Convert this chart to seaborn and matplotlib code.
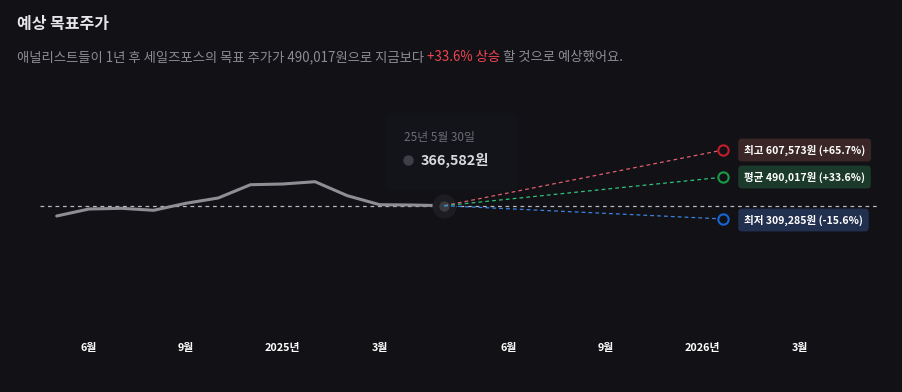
"""
Analyst target price chart (dark theme)
"""
import matplotlib
matplotlib.use('Agg')
import matplotlib.pyplot as plt
from matplotlib.lines import Line2D
from matplotlib.patches import FancyBboxPatch
import pandas as pd
import seaborn as sns

# monthly closing prices up to 25-05-30 (x = month index, 6월 = 0)
months = [-1, 0, 1, 2, 3, 4, 5, 6, 7, 8, 9, 10, 11]
prices = [322000, 352300, 355300, 346700, 377000, 399900, 457400,
          460500, 470400, 409850, 370900, 369600, 366582]

target_x = 19.63
target_names = ['최고', '평균', '최저']
target_prices = [607573, 490017, 309285]
target_pcts = ['+65.7%', '+33.6%', '-15.6%']
line_colors = ['#e0606e', '#2fc27a', '#3a84e0']
ring_colors = ['#c41d2c', '#1a9a45', '#1565d8']
box_colors = ['#3b2627', '#1b3a2b', '#22304f']

tick_pos = [0, 3, 6, 9, 13, 16, 19, 22]
tick_labels = ['6월', '9월', '2025년', '3월', '6월', '9월', '2026년', '3월']

BG = '#111116'
W, H = 903, 392

sns.set_theme(style='dark')
plt.rcParams['font.family'] = ['Noto Sans CJK KR', 'DejaVu Sans']
plt.rcParams['axes.unicode_minus'] = False

fig = plt.figure(figsize=(W / 100, H / 100), dpi=100, facecolor=BG)


def fx(px):
    return px / W


def fy(py):
    return 1 - py / H


# axes from px x 40..878, y 90..330
ax = fig.add_axes([fx(40), fy(330), fx(878) - fx(40), (330 - 90) / H])
ax.set_facecolor('none')
for s in ax.spines.values():
    s.set_visible(False)

per_px = 4327
last = prices[-1]
ax.set_ylim(last - 124.3 * per_px, last + 115.7 * per_px)
ax.set_xlim(-1.517, 24.43)

df = pd.DataFrame({'month': months, 'price': prices})
ax.axhline(last, color='#b8b8be', lw=0.9, ls=(0, (3, 3)), zorder=1)
sns.lineplot(data=df, x='month', y='price', ax=ax, color='#8e8e95', lw=2.2,
             zorder=3)

# highlighted last point
ax.scatter([months[-1]], [last], s=300, color='#1c1c22', zorder=4, lw=0)
ax.scatter([months[-1]], [last], s=55, color='#3a3a41', zorder=5, lw=0)

for i in range(3):
    ax.plot([months[-1], target_x], [last, target_prices[i]],
            color=line_colors[i], lw=0.9, ls=(0, (3, 2.5)), zorder=6)
    ax.scatter([target_x], [target_prices[i]], s=55, facecolor=BG,
               edgecolor=ring_colors[i], linewidth=1.5, zorder=7)

ax.set_xticks(tick_pos)
ax.set_xticklabels(tick_labels, color='white', fontsize=7.8,
                   fontweight='bold')
ax.tick_params(axis='x', length=0, pad=9)
ax.set_yticks([])
ax.set_xlabel('')
ax.set_ylabel('')
ax.grid(False)

# tooltip
fig.patches.append(FancyBboxPatch((fx(386), fy(190)), fx(131), (190 - 113) / H,
                                  boxstyle='round,pad=0,rounding_size=0.01',
                                  transform=fig.transFigure,
                                  fc='#13141a', ec='none', zorder=0))
fig.text(fx(404), fy(137), '25년 5월 30일', color='#6c6c74', fontsize=8.5,
         va='center')
fig.add_artist(Line2D([fx(408)], [fy(160)], marker='o', ms=6.5,
                      color='#3e3e47', transform=fig.transFigure))
fig.text(fx(421), fy(160), '366,582원', color='#d8d8dc', fontsize=10.3,
         fontweight='bold', va='center')

# target labels
label_y = [150, 177, 220]
for i in range(3):
    fig.text(fx(744), fy(label_y[i]),
             f'{target_names[i]} {target_prices[i]:,}원 ({target_pcts[i]})',
             color='white', fontsize=7.6, fontweight='bold', va='center',
             bbox=dict(boxstyle='round,pad=0.55,rounding_size=0.35',
                       fc=box_colors[i], ec='none'))

# title and subtitle
fig.text(fx(17), fy(24), '예상 목표주가', color='#e6e6ea', fontsize=11.5,
         fontweight='bold', va='center')

renderer = fig.canvas.get_renderer()
parts = [('애널리스트들이 1년 후 세일즈포스의 목표 주가가 490,017원으로 지금보다 ', '#8c8c94'),
         ('+33.6% 상승', '#f04452'),
         (' 할 것으로 예상했어요.', '#8c8c94')]
x = fx(17)
for txt, col in parts:
    t = fig.text(x, fy(57), txt, color=col, fontsize=9.6, va='center')
    bb = t.get_window_extent(renderer=renderer)
    x = bb.x1 / W

fig.savefig('out.png', dpi=100, facecolor=BG)
